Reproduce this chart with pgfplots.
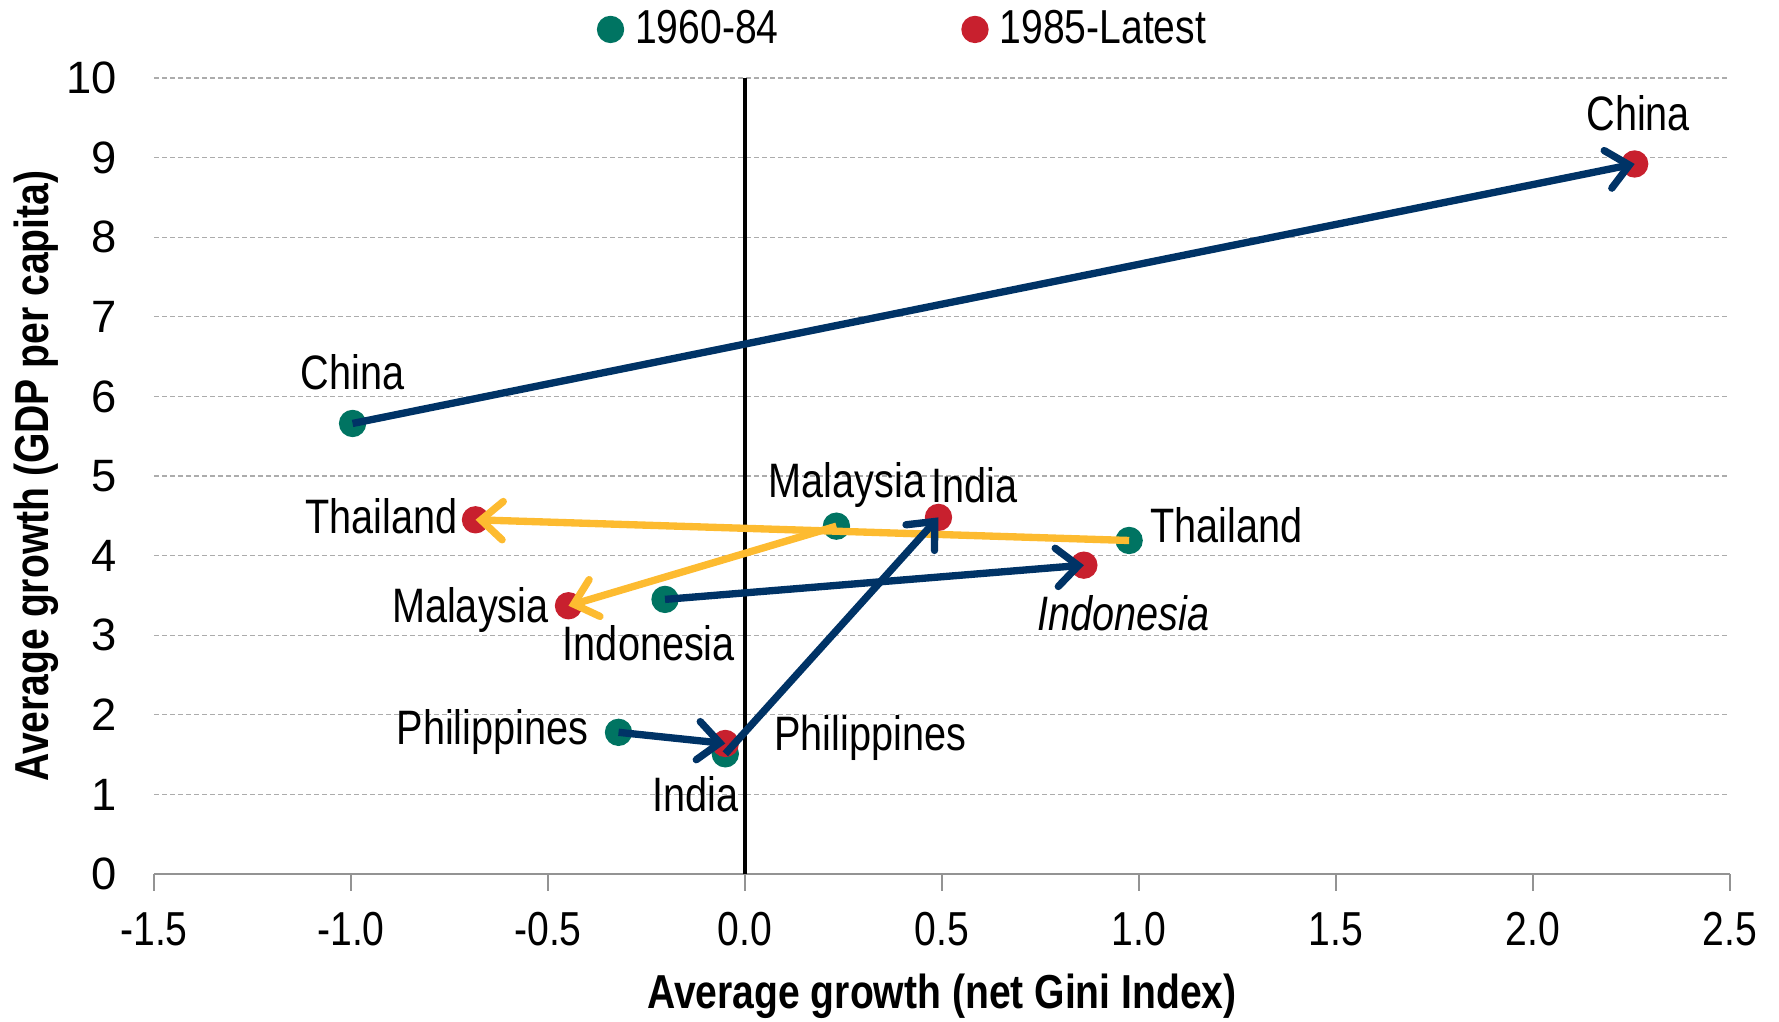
\documentclass[border=0pt]{standalone}
\usepackage{fontspec}
\setmainfont{Liberation Sans}[FakeStretch=0.82]
\newfontfamily\regfont{Liberation Sans}
\usepackage{pgfplots}
\pgfplotsset{compat=1.18}
\usetikzlibrary{arrows.meta}
\definecolor{gteal}{RGB}{0,116,98}
\definecolor{gred}{RGB}{200,32,46}
\definecolor{gnavy}{RGB}{0,51,102}
\definecolor{gyellow}{RGB}{253,187,48}
\newcommand\lf{\fontsize{14.5}{16}\selectfont}
\tikzset{arr/.style={line width=2.2pt, line cap=butt, line join=round, -{Straight Barb[length=6.5pt,width=11.5pt,line cap=round]}},
  lbl/.style={font=\lf, inner sep=0pt}}
\begin{document}
\begin{tikzpicture}
\begin{axis}[
  name=ax,
  set layers,
  scale only axis,
  width=472.8pt, height=238.8pt,
  xmin=-1.5, xmax=2.5, ymin=0, ymax=10,
  clip=false,
  axis x line=bottom, axis y line=left,
  x axis line style={draw=gray!85, line width=0.7pt, -},
  y axis line style={draw=none},
  xtick={-1.5,-1,-0.5,0,0.5,1,1.5,2,2.5},
  xticklabels={-1.5,-1.0,-0.5,0.0,0.5,1.0,1.5,2.0,2.5},
  ytick={0,1,2,3,4,5,6,7,8,9,10},
  yticklabels={0,1,2,3,4,5,6,7,8,9,10},
  tick align=outside,
  major tick length=5pt,
  x tick style={draw=gray!85, line width=0.5pt},
  y tick style={draw=none},
  ymajorgrids,
  grid style={gray!65, line width=0.4pt, dash pattern=on 1.5pt off 0.9pt},
  xticklabel style={font=\fontsize{14.3}{16}\selectfont, yshift=-3pt},
  yticklabel style={font=\regfont\fontsize{13.6}{16}\selectfont, xshift=-2.7pt},
  every axis x label/.style={at={(rel axis cs:0.5,0)}, yshift=-36.6pt, anchor=center,
    font=\bfseries\fontsize{14.3}{16}\selectfont},
  every axis y label/.style={at={(rel axis cs:0,0.5)}, xshift=-35.4pt, rotate=90, anchor=center,
    font=\bfseries\fontsize{14.3}{16}\selectfont},
  xlabel={Average growth (net Gini Index)},
  ylabel={Average growth (GDP per capita)},
  legend style={at={(0.281,1.061)}, anchor=west, draw=none, fill=none,
    legend columns=2, font=\fontsize{14.3}{16}\selectfont, inner sep=0pt,
    /tikz/every even column/.append style={column sep=53pt}},
  legend image code/.code={\draw[#1, mark repeat=1] plot coordinates {(0pt,0pt)}; \path (5.2pt,0pt);},
]
% vertical zero line
\addplot[black, line width=1.4pt, forget plot] coordinates {(0,0) (0,10)};
% 1960-84 points
\addplot[only marks, mark=*, mark size=3.9pt, color=gteal, mark options={fill=gteal, draw=gteal}]
  coordinates {(-0.996,5.66) (0.975,4.19) (0.232,4.37) (-0.203,3.45) (-0.321,1.78) (-0.05,1.51)};
\addlegendentry{1960-84}
% 1985-latest points
\addplot[only marks, mark=*, mark size=3.9pt, color=gred, mark options={fill=gred, draw=gred}]
  coordinates {(2.258,8.92) (-0.684,4.45) (-0.448,3.37) (0.86,3.88) (-0.05,1.64) (0.491,4.48)};
\addlegendentry{1985-Latest}
% arrows
\addplot[gnavy, arr, forget plot, on layer=axis foreground]
  coordinates {(-0.996,5.66) (2.258,8.92)};
\addplot[gyellow, arr, forget plot, on layer=axis foreground]
  coordinates {(0.975,4.19) (-0.684,4.45)};
\addplot[gyellow, arr, forget plot, on layer=axis foreground]
  coordinates {(0.232,4.37) (-0.448,3.37)};
\addplot[gnavy, arr, forget plot, on layer=axis foreground]
  coordinates {(-0.203,3.45) (0.86,3.88)};
\addplot[gnavy, arr, forget plot, on layer=axis foreground]
  coordinates {(-0.321,1.78) (-0.05,1.64)};
\addplot[gnavy, arr, forget plot, on layer=axis foreground]
  coordinates {(-0.05,1.51) (0.491,4.48)};
% labels
\node[lbl, anchor=center] at (axis cs:-0.996,6.31) {China};
\node[lbl, anchor=center] at (axis cs:2.267,9.56) {China};
\node[lbl, anchor=east] at (axis cs:-0.728,4.49) {Thailand};
\node[lbl, anchor=west] at (axis cs:1.027,4.38) {Thailand};
\node[lbl, anchor=west] at (axis cs:0.059,4.89) {Malaysia};
\node[lbl, anchor=east] at (axis cs:0.693,4.89) {India};
\node[lbl, anchor=east] at (axis cs:-0.497,3.32) {Malaysia};
\node[lbl, anchor=center] at (axis cs:-0.244,2.90) {Indonesia};
\node[lbl, font=\lf\itshape, anchor=center] at (axis cs:0.961,3.28) {Indonesia};
\node[lbl, anchor=east] at (axis cs:-0.396,1.78) {Philippines};
\node[lbl, anchor=west] at (axis cs:0.073,1.71) {Philippines};
\node[lbl, anchor=center] at (axis cs:-0.125,1.0) {India};
\end{axis}
\pgfresetboundingbox
\path[use as bounding box] ([shift={(-46.2pt,-44.1pt)}]ax.south west) rectangle ([shift={(14.7pt,23.4pt)}]ax.north east);
\end{tikzpicture}
\end{document}
